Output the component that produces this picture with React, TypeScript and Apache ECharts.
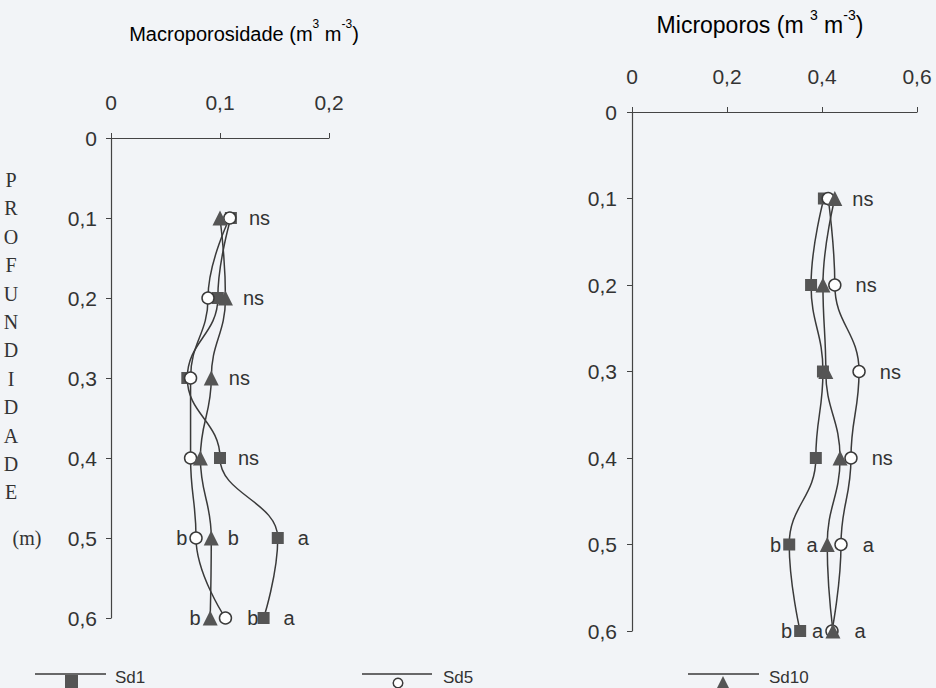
import React, { useEffect, useRef } from "react";
import * as echarts from "echarts";

// depth (m)
const depths = [0.1, 0.2, 0.3, 0.4, 0.5, 0.6];
const depthTicks = ["0", "0,1", "0,2", "0,3", "0,4", "0,5", "0,6"];

// Macroporosidade (m3 m-3)
const macroSd1 = [0.110, 0.098, 0.070, 0.100, 0.153, 0.140];
const macroSd5 = [0.109, 0.089, 0.073, 0.073, 0.078, 0.105];
const macroSd10 = [0.100, 0.105, 0.092, 0.082, 0.092, 0.091];
const macroSd1Sig = ["ns", "", "", "ns", "a", "a"];
const macroSd5Sig = ["", "", "", "", "b", "b"];
const macroSd10Sig = ["", "ns", "ns", "", "b", "b"];

// Microporos (m3 m-3)
const microSd1 = [0.404, 0.377, 0.402, 0.387, 0.331, 0.354];
const microSd5 = [0.413, 0.427, 0.478, 0.461, 0.440, 0.421];
const microSd10 = [0.427, 0.402, 0.408, 0.438, 0.411, 0.423];
const microSd1Sig = ["", "", "", "", "b", "b"];
const microSd5Sig = ["", "ns", "ns", "ns", "a", "a"];
const microSd10Sig = ["ns", "", "", "", "a", "a"];

const seriesNames = ["Sd1", "Sd5", "Sd10"];
const depthLetters = ["P", "R", "O", "F", "U", "N", "D", "I", "D", "A", "D", "E"];

// label placement (layout only): L = left of the marker, R = right
const macroSd5Side = ["R", "R", "R", "R", "L", "R"];
const macroSd10Side = ["R", "R", "R", "R", "R", "L"];
const microSd1Side = ["R", "R", "R", "R", "L", "L"];
const microSd5Side = ["R", "R", "R", "R", "R", "L"];
const microSd10Side = ["R", "R", "R", "R", "L", "R"];
const allRight = ["R", "R", "R", "R", "R", "R"];

const FONT = "Liberation Sans, Arial, sans-serif";
const INK = "#333";
const LINE = "#3a3a3a";
const FILL = "#555";
const TICK_FS = 21;

function fmtDepth(v: number) {
  return depthTicks[Math.round(v * 10)] ?? String(v);
}
function fmtX(v: number) {
  return v === 0 ? "0" : v.toFixed(1).replace(".", ",");
}

function buildData(xs: number[], sig: string[], side: string[], extraRight?: number[]) {
  return xs.map((x, i) => {
    const item: any = { value: [x, depths[i]] };
    if (sig[i]) {
      const right = side[i] === "R";
      item.label = {
        show: true,
        formatter: sig[i],
        position: right ? "right" : "left",
        distance: right ? (extraRight && extraRight[i] ? extraRight[i] : 11) : 2,
        fontSize: 20,
        fontFamily: FONT,
        color: INK,
      };
    }
    return item;
  });
}

const symbolCfg = [
  { symbol: "rect", symbolSize: 12, itemStyle: { color: FILL, borderColor: FILL, borderWidth: 0 } },
  { symbol: "circle", symbolSize: 12, itemStyle: { color: "#fff", borderColor: LINE, borderWidth: 1.5 } },
  { symbol: "triangle", symbolSize: 15, itemStyle: { color: FILL, borderColor: FILL, borderWidth: 0 } },
];

function makeSeries(gi: number, name: string, idx: number, data: any[]) {
  return {
    type: "line",
    name,
    xAxisIndex: gi,
    yAxisIndex: gi,
    smooth: 0.45,
    smoothMonotone: "y",
    showSymbol: true,
    ...symbolCfg[idx],
    lineStyle: { color: LINE, width: 1.5 },
    label: { show: false },
    z: 3 + idx,
    data,
  };
}

function axisBase() {
  return {
    axisLine: { show: true, lineStyle: { color: "#444", width: 1.2 } },
    axisTick: { show: true, inside: false, length: 5, lineStyle: { color: "#444", width: 1 } },
    splitLine: { show: false },
  };
}

export default function App() {
  const ref = useRef<HTMLDivElement>(null);
  useEffect(() => {
    if (!ref.current) return;
    const chart = echarts.init(ref.current, undefined, { renderer: "svg" });
    const rich = (fs: number) => ({
      a: { fontSize: fs, fontFamily: FONT, color: INK, verticalAlign: "bottom", lineHeight: fs + 6 },
      s: { fontSize: Math.round(fs * 0.62), fontFamily: FONT, color: INK, verticalAlign: "top", lineHeight: fs + 6 },
    });
    const legendY = 674;
    const option: any = {
      animation: false,
      backgroundColor: "#f2f4f7",
      grid: [
        { left: 111, top: 138, width: 218, height: 480, containLabel: false },
        { left: 632, top: 112, width: 285, height: 519, containLabel: false },
      ],
      xAxis: [
        {
          type: "value", gridIndex: 0, position: "top", min: 0, max: 0.2, interval: 0.1,
          ...axisBase(),
          axisLabel: { margin: 25, fontSize: TICK_FS, fontFamily: FONT, color: INK, formatter: fmtX },
        },
        {
          type: "value", gridIndex: 1, position: "top", min: 0, max: 0.6, interval: 0.2,
          ...axisBase(),
          axisLabel: { margin: 25, fontSize: TICK_FS, fontFamily: FONT, color: INK, formatter: fmtX },
        },
      ],
      yAxis: [
        {
          type: "value", gridIndex: 0, inverse: true, min: 0, max: 0.6, interval: 0.1,
          ...axisBase(),
          axisLabel: { margin: 14, fontSize: TICK_FS, fontFamily: FONT, color: INK, formatter: fmtDepth },
        },
        {
          type: "value", gridIndex: 1, inverse: true, min: 0, max: 0.6, interval: 0.1,
          ...axisBase(),
          axisLabel: { margin: 15, fontSize: TICK_FS, fontFamily: FONT, color: INK, formatter: fmtDepth },
        },
      ],
      series: [
        makeSeries(0, seriesNames[0], 0, buildData(macroSd1, macroSd1Sig, allRight, [12, 0, 0, 12, 14, 14])),
        makeSeries(0, seriesNames[1], 1, buildData(macroSd5, macroSd5Sig, macroSd5Side, [0, 0, 0, 0, 0, 15])),
        makeSeries(0, seriesNames[2], 2, buildData(macroSd10, macroSd10Sig, macroSd10Side, [0, 10, 10, 0, 9, 0])),
        makeSeries(1, seriesNames[0], 0, buildData(microSd1, microSd1Sig, microSd1Side)),
        makeSeries(1, seriesNames[1], 1, buildData(microSd5, microSd5Sig, microSd5Side, [0, 14, 14, 14, 15, 0])),
        makeSeries(1, seriesNames[2], 2, buildData(microSd10, microSd10Sig, microSd10Side, [10, 0, 0, 0, 0, 14])),
      ],
      graphic: [
        {
          type: "text", x: 244, y: 31,
          style: { text: "{a|Macroporosidade (m}{s|3}{a| m}{s|-3}{a|)}", rich: rich(20), align: "center", verticalAlign: "middle" },
        },
        {
          type: "text", x: 760, y: 22,
          style: { text: "{a|Microporos (m }{s|3}{a| m}{s|-3}{a|)}", rich: rich(23), align: "center", verticalAlign: "middle" },
        },
        ...depthLetters.map((ch, i) => ({
          type: "text", x: 11, y: 180 + i * 28.4,
          style: { text: ch, font: "20px 'Liberation Serif', serif", fill: INK, align: "center", verticalAlign: "middle" },
        })),
        {
          type: "text", x: 27, y: 538,
          style: { text: "(m)", font: "20px 'Liberation Serif', serif", fill: INK, align: "center", verticalAlign: "middle" },
        },
        // legend
        { type: "line", shape: { x1: 35, y1: legendY, x2: 106, y2: legendY }, style: { stroke: LINE, lineWidth: 1.4 } },
        { type: "rect", shape: { x: 65, y: legendY + 1, width: 13, height: 13 }, style: { fill: FILL } },
        { type: "text", x: 115, y: legendY + 3, style: { text: seriesNames[0], font: `17px ${FONT}`, fill: INK, verticalAlign: "middle" } },
        { type: "line", shape: { x1: 362, y1: legendY, x2: 432, y2: legendY }, style: { stroke: LINE, lineWidth: 1.4 } },
        { type: "circle", shape: { cx: 398, cy: legendY + 9, r: 4.8 }, style: { fill: "#fff", stroke: LINE, lineWidth: 1.5 } },
        { type: "text", x: 443, y: legendY + 3, style: { text: seriesNames[1], font: `17px ${FONT}`, fill: INK, verticalAlign: "middle" } },
        { type: "line", shape: { x1: 688, y1: legendY, x2: 759, y2: legendY }, style: { stroke: LINE, lineWidth: 1.4 } },
        { type: "polygon", shape: { points: [[723, legendY + 2], [716, legendY + 16], [730, legendY + 16]] }, style: { fill: FILL } },
        { type: "text", x: 769, y: legendY + 3, style: { text: seriesNames[2], font: `17px ${FONT}`, fill: INK, verticalAlign: "middle" } },
      ],
    };
    chart.setOption(option);
    return () => chart.dispose();
  }, []);
  return <div ref={ref} style={{ position: "fixed", left: 0, top: 0, width: 936, height: 688 }} />;
}
